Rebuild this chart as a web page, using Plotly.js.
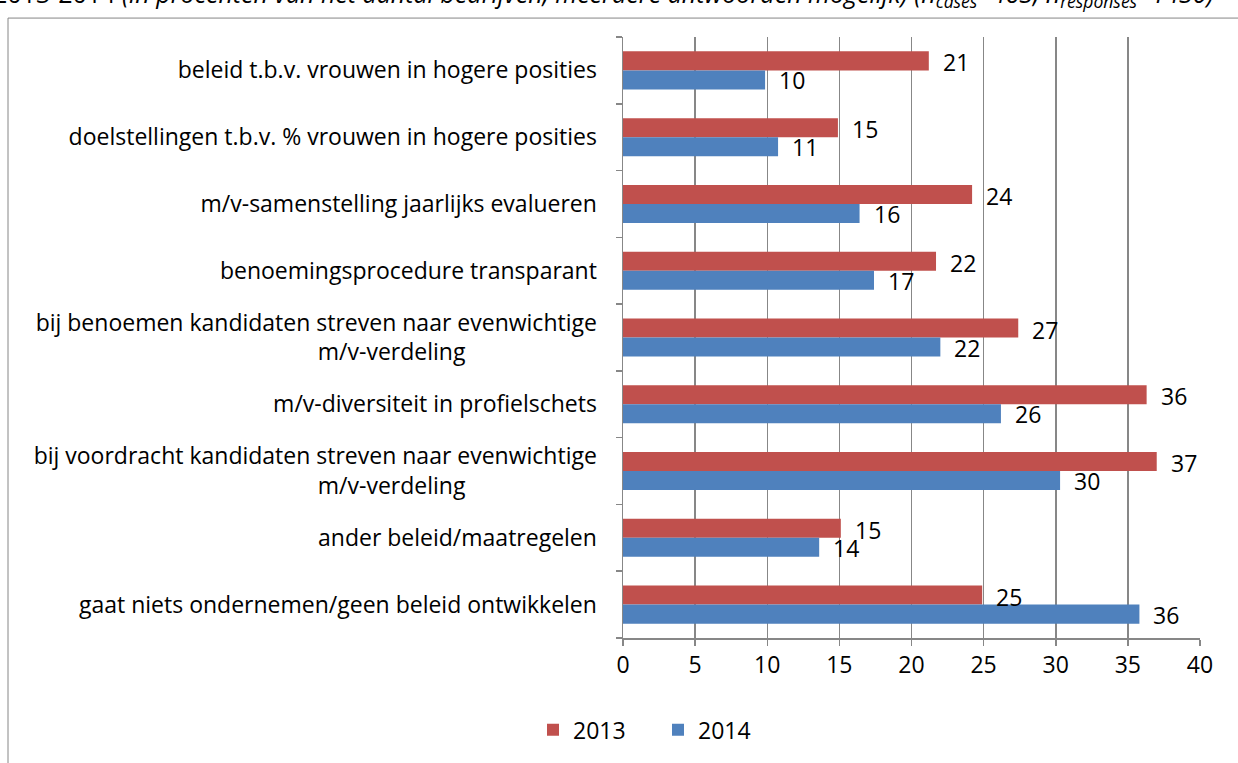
<!DOCTYPE html>
<html>
<head>
<meta charset="utf-8">
<script src="https://cdn.plot.ly/plotly-3.0.1.min.js"></script>
<style>
html,body{margin:0;padding:0;background:#fff;overflow:hidden;}
#chart{width:1238px;height:763px;}
</style>
</head>
<body>
<div id="chart"></div>
<script>
// ---- data ----
const categories = [
  "beleid t.b.v. vrouwen in hogere posities",
  "doelstellingen t.b.v. % vrouwen in hogere posities",
  "m/v-samenstelling jaarlijks evalueren",
  "benoemingsprocedure transparant",
  "bij benoemen kandidaten streven naar evenwichtige<br>m/v-verdeling",
  "m/v-diversiteit in profielschets",
  "bij voordracht kandidaten streven naar evenwichtige<br>m/v-verdeling",
  "ander beleid/maatregelen",
  "gaat niets ondernemen/geen beleid ontwikkelen"
];
const values2013 = [21.2, 14.9, 24.2, 21.7, 27.4, 36.3, 37.0, 15.1, 24.9];
const values2014 = [9.85, 10.75, 16.4, 17.4, 22.0, 26.2, 30.3, 13.6, 35.8];
const seriesNames = ["2013", "2014"];
const xTicks = [0, 5, 10, 15, 20, 25, 30, 35, 40];
const headerText = "2013-2014 <i>(in procenten van het aantal bedrijven; meerdere antwoorden mogelijk) (n<sub>cases</sub>=463; n<sub>responses</sub>=1430)</i>";

// ---- styling ----
const FONT = "'Open Sans', 'Noto Sans', sans-serif";
const FS = 23;
const RED = "#C0504D", BLUE = "#4F81BD";
const PH = 603, PW = 577; // plot area size in px

const traces = [
  {type: "bar", orientation: "h", name: seriesNames[0], y: categories, x: values2013,
   marker: {color: RED}, hoverinfo: "x+y"},
  {type: "bar", orientation: "h", name: seriesNames[1], y: categories, x: values2014,
   marker: {color: BLUE}, hoverinfo: "x+y"}
];

// tick text: second line of wrapped labels is shifted left (as in reference)
const tickText = categories.map(c => {
  const parts = c.split("<br>");
  if (parts.length === 1) return c;
  return parts[0] + "<br>" + parts[1] + "\u00A0".repeat(22);
});

const annotations = [];
[values2013, values2014].forEach((vals, si) => {
  vals.forEach((v, i) => {
    annotations.push({
      x: v, y: categories[i], xref: "x", yref: "y",
      text: String(Math.round(v)), showarrow: false,
      xanchor: "left", yanchor: "middle",
      xshift: 12, yshift: si === 0 ? 8 : -10,
      font: {family: FONT, size: FS, color: "#000"}
    });
  });
});
// cut-off header line at the very top of the page
annotations.push({
  xref: "paper", yref: "paper", x: -632/PW, y: 646/PH, xanchor: "left", yanchor: "middle",
  text: headerText, showarrow: false,
  font: {family: FONT, size: 25, color: "#000"}
});

const layout = {
  width: 1238, height: 763,
  margin: {l: 623, r: 38, t: 37, b: 123, pad: 0},
  paper_bgcolor: "#fff", plot_bgcolor: "#fff",
  font: {family: FONT, size: FS, color: "#000"},
  barmode: "group", bargap: 0.43, bargroupgap: 0,
  showlegend: true,
  legend: {orientation: "h", x: 35/PW, xanchor: "center", y: -92/PH, yanchor: "middle",
           entrywidth: 80, entrywidthmode: "pixels",
           font: {family: FONT, size: FS, color: "#000"}, traceorder: "normal"},
  xaxis: {range: [0, 40], tickvals: xTicks, ticktext: xTicks.map(String),
          showgrid: true, gridcolor: "#878787", gridwidth: 1.5,
          showline: true, linecolor: "#878787", linewidth: 1.5,
          ticks: "outside", ticklen: 6, tickcolor: "#878787", tickwidth: 1.5,
          zeroline: false, fixedrange: true,
          tickfont: {family: FONT, size: FS, color: "#000"}},
  yaxis: {type: "category", autorange: "reversed", categoryorder: "array", categoryarray: categories,
          tickvals: categories, ticktext: tickText, tickson: "boundaries",
          showgrid: false, showline: true, linecolor: "#878787", linewidth: 1.5,
          ticks: "outside", ticklen: 6, tickcolor: "#878787", tickwidth: 1.5,
          ticklabelstandoff: 20, fixedrange: true,
          tickfont: {family: FONT, size: FS, color: "#000"}},
  annotations: annotations,
  shapes: [{type: "rect", xref: "paper", yref: "paper",
            x0: -615/PW, x1: 1.3, y0: -0.3, y1: 622/PH,
            line: {color: "#868686", width: 1}, fillcolor: "rgba(0,0,0,0)", layer: "below"}]
};

Plotly.newPlot("chart", traces, layout, {displayModeBar: false, staticPlot: true});
</script>
</body>
</html>
